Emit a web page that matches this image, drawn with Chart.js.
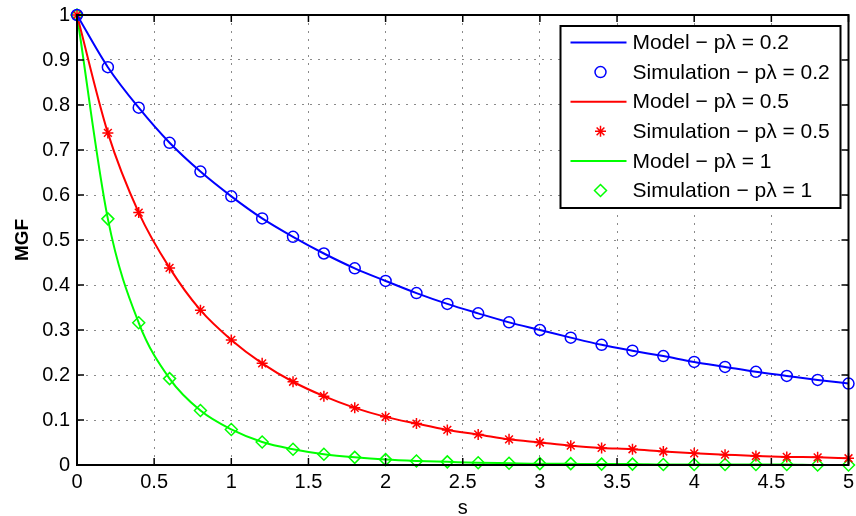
<!DOCTYPE html>
<html>
<head>
<meta charset="utf-8">
<script src="https://cdn.jsdelivr.net/npm/chart.js@4.4.1/dist/chart.umd.min.js"></script>
<style>
    html, body { margin: 0; padding: 0; background: #fff; }
    #wrap { width: 856px; height: 516px; }
</style>
</head>
<body>
<div id="wrap"><canvas id="mgfChart" width="856" height="516"></canvas></div>
<script>
// s values (simulation points, also used for the model curves)
const sValues = [0, 0.2, 0.4, 0.6, 0.8, 1, 1.2, 1.4, 1.6, 1.8, 2, 2.2, 2.4, 2.6, 2.8, 3, 3.2, 3.4, 3.6, 3.8, 4, 4.2, 4.4, 4.6, 4.8, 5];

// MGF
const mgf02 = [1, 0.884, 0.794, 0.716, 0.652, 0.597, 0.548, 0.507, 0.470, 0.437, 0.409, 0.382, 0.358, 0.337, 0.317, 0.300, 0.283, 0.267, 0.254, 0.242, 0.229, 0.218, 0.207, 0.198, 0.189, 0.181];
const mgf05 = [1, 0.738, 0.561, 0.438, 0.344, 0.278, 0.226, 0.185, 0.153, 0.127, 0.107, 0.092, 0.078, 0.068, 0.057, 0.050, 0.043, 0.038, 0.035, 0.030, 0.026, 0.023, 0.020, 0.018, 0.017, 0.015];
const mgf1 = [1, 0.547, 0.316, 0.192, 0.121, 0.079, 0.051, 0.035, 0.024, 0.017, 0.012, 0.009, 0.007, 0.005, 0.004, 0.003, 0.003, 0.002, 0.002, 0.001, 0.001, 0.001, 0.001, 0.001, 0, 0];

const seriesLabels = ["0.2", "0.5", "1"];
const seriesColors = ["#0000ff", "#ff0000", "#00ff00"];
const markerStyles = ["circle", "star", "rectRot"];

const FONT = '"Liberation Sans", Arial, Helvetica, sans-serif';

function toPoints(ys) {
    return sValues.map((s, i) => ({ x: s, y: ys[i] }));
}

// 0.5 -> "0.5", 1 -> "1" (matlab style, no trailing zeros)
function tickText(v) {
    return String(parseFloat(Number(v).toFixed(2)));
}

function modelSet(ys, idx) {
    return {
        label: "Model \u2212 p\u03bb = " + seriesLabels[idx],
        data: toPoints(ys),
        showLine: true,
        borderColor: seriesColors[idx],
        borderWidth: 2,
        pointRadius: 0,
        cubicInterpolationMode: "monotone",
        clip: false
    };
}

function simSet(ys, idx) {
    return {
        label: "Simulation \u2212 p\u03bb = " + seriesLabels[idx],
        data: toPoints(ys),
        showLine: false,
        borderColor: seriesColors[idx],
        backgroundColor: "rgba(0,0,0,0)",
        pointStyle: markerStyles[idx],
        pointRadius: idx === 2 ? 6 : 5.5,
        pointBorderWidth: 1.5,
        pointBackgroundColor: "rgba(0,0,0,0)",
        pointBorderColor: seriesColors[idx],
        clip: false
    };
}

// box around the plot with matlab-like inward ticks
const frameTicks = {
    id: "frameTicks",
    afterDatasetsDraw(chart) {
        const { ctx, chartArea: a, scales } = chart;
        ctx.save();
        ctx.strokeStyle = "#000";
        ctx.lineWidth = 1.5;
        ctx.beginPath();
        scales.x.ticks.forEach(t => {
            const px = scales.x.getPixelForValue(t.value);
            ctx.moveTo(px, a.bottom); ctx.lineTo(px, a.bottom - 7);
            ctx.moveTo(px, a.top); ctx.lineTo(px, a.top + 7);
        });
        scales.y.ticks.forEach(t => {
            const py = scales.y.getPixelForValue(t.value);
            ctx.moveTo(a.left, py); ctx.lineTo(a.left + 7, py);
            ctx.moveTo(a.right, py); ctx.lineTo(a.right - 7, py);
        });
        ctx.stroke();
        ctx.lineWidth = 2;
        ctx.strokeRect(a.left, a.top, a.right - a.left, a.bottom - a.top);
        ctx.restore();
    }
};

const legendBox = {
    id: "legendBox",
    afterDraw(chart) {
        const { ctx, chartArea: a } = chart;
        const w = 280, h = 182;
        const right = a.right - 8, top = a.top + 11, left = right - w;
        ctx.save();
        ctx.fillStyle = "#fff";
        ctx.fillRect(left, top, w, h);
        ctx.lineWidth = 2;
        ctx.strokeStyle = "#000";
        ctx.strokeRect(left, top, w, h);
        ctx.font = "21px " + FONT;
        ctx.textBaseline = "middle";
        chart.data.datasets.forEach((ds, i) => {
            const y = top + 16.5 + i * 29.6;
            if (ds.showLine) {
                ctx.strokeStyle = ds.borderColor;
                ctx.lineWidth = 2;
                ctx.beginPath();
                ctx.moveTo(left + 10, y);
                ctx.lineTo(left + 66, y);
                ctx.stroke();
            } else {
                ctx.strokeStyle = ds.pointBorderColor;
                ctx.fillStyle = "rgba(0,0,0,0)";
                ctx.lineWidth = ds.pointBorderWidth;
                Chart.helpers.drawPoint(ctx, {
                    pointStyle: ds.pointStyle,
                    radius: ds.pointRadius,
                    rotation: 0,
                    borderWidth: ds.pointBorderWidth
                }, left + 40, y);
            }
            ctx.fillStyle = "#000";
            ctx.fillText(ds.label, left + 72, y + 1);
        });
        ctx.restore();
    }
};

const gridStyle = { color: "#8a8a8a", lineWidth: 1, drawTicks: false };
const borderStyle = { display: true, color: "#000", width: 2, dash: [2, 6] };

function initChart() {
    const canvas = document.getElementById("mgfChart");
    new Chart(canvas, {
        type: "line",
        data: {
            datasets: [
                modelSet(mgf02, 0), simSet(mgf02, 0),
                modelSet(mgf05, 1), simSet(mgf05, 1),
                modelSet(mgf1, 2), simSet(mgf1, 2)
            ]
        },
        options: {
            responsive: false,
            animation: false,
            layout: { padding: { left: 0, right: 5, top: 15, bottom: 0 } },
            plugins: {
                legend: { display: false },
                tooltip: { enabled: false }
            },
            scales: {
                x: {
                    type: "linear",
                    min: 0,
                    max: 5,
                    ticks: {
                        stepSize: 0.5, color: "#000", padding: 5, maxRotation: 0,
                        font: { family: FONT, size: 20 },
                        callback: v => tickText(v)
                    },
                    grid: gridStyle,
                    border: borderStyle,
                    title: { display: true, text: "s", color: "#000", font: { family: FONT, size: 20, lineHeight: 0.8 }, padding: { top: 0, bottom: 0 } },
                    afterFit(scale) {
                        scale.height = 51;
                        scale.paddingLeft = 0;
                        scale.paddingRight = 0;
                    }
                },
                y: {
                    min: 0,
                    max: 1,
                    ticks: {
                        stepSize: 0.1, color: "#000", padding: 7,
                        font: { family: FONT, size: 20 },
                        callback: v => tickText(v)
                    },
                    grid: gridStyle,
                    border: borderStyle,
                    title: { display: true, text: "MGF", color: "#000", font: { family: FONT, size: 19, weight: "bold" }, padding: { top: 11, bottom: 0 } },
                    afterFit(scale) {
                        scale.width = 77;
                        scale.paddingTop = 0;
                        scale.paddingBottom = 0;
                    }
                }
            }
        },
        plugins: [frameTicks, legendBox]
    });
}

document.addEventListener("DOMContentLoaded", initChart);
</script>
</body>
</html>
